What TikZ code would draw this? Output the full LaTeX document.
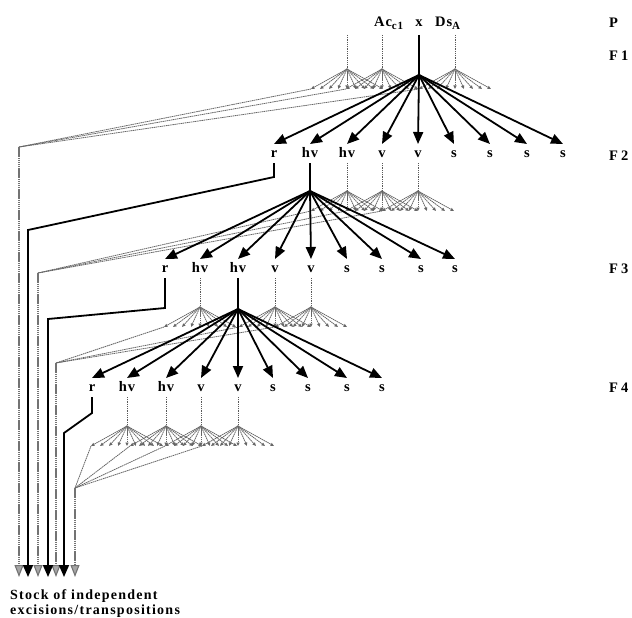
\documentclass[tikz,border=0pt]{standalone}
\usepackage{fontspec}
\setmainfont{Liberation Serif}
\newfontfamily\lblfont[LetterSpace=6]{Liberation Serif}
\newfontfamily\stockfont[LetterSpace=9]{Liberation Serif}
\usetikzlibrary{arrows.meta}
\newcommand{\minifan}[1]{%
  \foreach \k in {-4,...,4}{\draw[gry,minitip] (#1) -- ++(9*\k,20);}%
  \coordinate (#1L) at ([shift={(-36,20)}]#1);%
}
\begin{document}
\begin{tikzpicture}[x=1pt,y=-1pt,
  lbl/.style={font=\lblfont\bfseries\fontsize{14.5}{15}\selectfont, inner sep=0pt, anchor=base},
  stock/.style={font=\stockfont\bfseries\fontsize{14}{15}\selectfont, inner sep=0pt, anchor=base west},
  blk/.style={line width=1.8pt, -{Triangle[length=12pt,width=10pt]}},
  blkline/.style={line width=1.8pt},
  blkarr/.style={line width=1.8pt, -{Triangle[length=12pt,width=10pt]}},
  gry/.style={black!60, line width=0.8pt, dash pattern=on 1.5pt off 0.6pt},
  gryvert/.style={black!65, line width=0.8pt, densely dotted},
  minitip/.style={-{Triangle[length=3.5pt,width=3pt]}},
  gryarr/.style={black!55, line width=1.1pt, dash pattern=on 1.5pt off 0.6pt,
     -{Triangle[length=12pt,width=9pt,fill=black!35]}},
]
\useasboundingbox (0,0) rectangle (632,618);

% ---------- top labels ----------
\node[lbl, anchor=base west] (acc) at (374,27) {Ac\raisebox{-3pt}{\fontsize{11}{11}\selectfont c1}};
\node[lbl] (xl) at (419,27) {x};
\node[lbl, anchor=base west] (dsa) at (435,27) {Ds\raisebox{-3pt}{\fontsize{11}{11}\selectfont A}};
\node[lbl, anchor=base west] (P)  at (609,28)  {P};
\node[lbl, anchor=base west] (F1) at (609,60)  {F\hspace{3pt}1};
\node[lbl, anchor=base west] (F2) at (609,160) {F\hspace{3pt}2};
\node[lbl, anchor=base west] (F3) at (609,273) {F\hspace{3pt}3};
\node[lbl, anchor=base west] (F4) at (609,392) {F\hspace{3pt}4};

% ---------- rows of labels ----------
\foreach \x/\t [count=\i] in {274/r,310/hv,347/hv,382/v,418/v,454/s,490/s,527/s,563/s}
  \node[lbl] (a\i) at (\x,157) {\t};
\foreach \x/\t [count=\i] in {165/r,200/hv,238/hv,275/v,311/v,347/s,382/s,421/s,455/s}
  \node[lbl] (b\i) at (\x,272) {\t};
\foreach \x/\t [count=\i] in {92/r,127/hv,166/hv,201/v,238/v,273/s,308/s,347/s,382/s}
  \node[lbl] (c\i) at (\x,391) {\t};

% ---------- gray fans ----------
\coordinate (t11) at (347,35); \coordinate (g11) at (347,69);
\coordinate (t12) at (382,35); \coordinate (g12) at (382,69);
\coordinate (t13) at (455,35); \coordinate (g13) at (455,69);
\draw[gryvert] (t11) -- (g11);
\draw[gryvert] (t12) -- (g12);
\draw[gryvert] (t13) -- (g13);
\minifan{g11}\minifan{g12}\minifan{g13}

\coordinate (g21) at (347,191); \coordinate (g22) at (382,191); \coordinate (g23) at (418,191);
\draw[gryvert] ([yshift=-6pt]a3.base) -- (g21);
\draw[gryvert] ([yshift=-6pt]a4.base) -- (g22);
\draw[gryvert] ([yshift=-6pt]a5.base) -- (g23);
\minifan{g21}\minifan{g22}\minifan{g23}

\coordinate (g31) at (200,307); \coordinate (g32) at (275,307); \coordinate (g33) at (311,307);
\draw[gryvert] ([yshift=-6pt]b2.base) -- (g31);
\draw[gryvert] ([yshift=-6pt]b4.base) -- (g32);
\draw[gryvert] ([yshift=-6pt]b5.base) -- (g33);
\minifan{g31}\minifan{g32}\minifan{g33}

\coordinate (g41) at (127,426); \coordinate (g42) at (166,426);
\coordinate (g43) at (201,426); \coordinate (g44) at (238,426);
\draw[gryvert] ([yshift=-6pt]c2.base) -- (g41);
\draw[gryvert] ([yshift=-6pt]c3.base) -- (g42);
\draw[gryvert] ([yshift=-6pt]c4.base) -- (g43);
\draw[gryvert] ([yshift=-6pt]c5.base) -- (g44);
\minifan{g41}\minifan{g42}\minifan{g43}\minifan{g44}

% ---------- gray lines to the stock ----------
\coordinate (k1) at (19,147); \coordinate (e1) at (19,577);
\coordinate (k2) at (38,273); \coordinate (e2) at (38,577);
\coordinate (k3) at (56,363); \coordinate (e3) at (56,577);
\coordinate (k4) at (75,488); \coordinate (e4) at (75,577);
\draw[gry] (g11L) -- (k1); \draw[gry] (g12L) -- (k1); \draw[gry] (g13L) -- (k1);
\draw[gry] (g21L) -- (k2); \draw[gry] (g22L) -- (k2); \draw[gry] (g23L) -- (k2);
\draw[gry] (g31L) -- (k3); \draw[gry] (g32L) -- (k3); \draw[gry] (g33L) -- (k3);
\draw[gry] (g41L) -- (k4); \draw[gry] (g42L) -- (k4); \draw[gry] (g43L) -- (k4); \draw[gry] (g44L) -- (k4);
\draw[gryarr] (k1) -- (e1);
\draw[gryarr] (k2) -- (e2);
\draw[gryarr] (k3) -- (e3);
\draw[gryarr] (k4) -- (e4);

% ---------- black fans ----------
\coordinate (h1) at (419,75);
\draw[blkline] ([yshift=-8pt]xl.base) -- (h1);
\foreach \i in {1,...,9} \draw[blk] (h1) -- ([yshift=13pt]a\i.base);

\coordinate (h2) at (310,191);
\draw[blkline] ([yshift=-6pt]a2.base) -- (h2);
\foreach \i in {1,...,9} \draw[blk] (h2) -- ([yshift=13pt]b\i.base);

\coordinate (h3) at (238,309);
\draw[blkline] ([yshift=-6pt]b3.base) -- (h3);
\foreach \i in {1,...,9} \draw[blk] (h3) -- ([yshift=13pt]c\i.base);

% ---------- black r lines to the stock ----------
\coordinate (m1) at (274,177); \coordinate (n1) at (28,230); \coordinate (e5) at (28,577);
\coordinate (m2) at (165,308); \coordinate (n2) at (48,319); \coordinate (e6) at (48,577);
\coordinate (m3) at (92,413);  \coordinate (n3) at (64,433); \coordinate (e7) at (64,577);
\draw[blkarr] ([yshift=-6pt]a1.base) -- (m1) -- (n1) -- (e5);
\draw[blkarr] ([yshift=-6pt]b1.base) -- (m2) -- (n2) -- (e6);
\draw[blkarr] ([yshift=-6pt]c1.base) -- (m3) -- (n3) -- (e7);

% ---------- stock text ----------
\node[stock] (st1) at (10,599) {Stock of independent};
\node[stock] (st2) at (10,614) {excisions/transpositions};
\end{tikzpicture}
\end{document}
